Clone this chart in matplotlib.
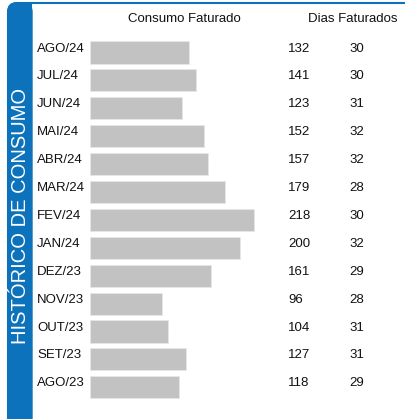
import matplotlib
matplotlib.use("Agg")
import matplotlib.pyplot as plt
from matplotlib.patches import FancyBboxPatch, Rectangle
from matplotlib import transforms

months = ["AGO/24", "JUL/24", "JUN/24", "MAI/24", "ABR/24", "MAR/24", "FEV/24",
          "JAN/24", "DEZ/23", "NOV/23", "OUT/23", "SET/23", "AGO/23"]
consumo = [132, 141, 123, 152, 157, 179, 218, 200, 161, 96, 104, 127, 118]
dias = [30, 30, 31, 32, 32, 28, 30, 32, 29, 28, 31, 31, 29]

W, H = 406, 419
BLUE = "#0b72bb"
FONT = ["Liberation Sans", "DejaVu Sans"]
plt.rcParams["font.family"] = FONT

fig = plt.figure(figsize=(W / 100, H / 100), dpi=100)
fig.patch.set_facecolor("white")

# pixel transform (origin bottom-left)
px = transforms.Affine2D().scale(1 / W, 1 / H) + fig.transFigure

# frame with rounded corner
frame = FancyBboxPatch((8, -30), W + 30, H - 3 + 30,
                       boxstyle="round,pad=0,rounding_size=9",
                       facecolor="white", edgecolor=BLUE, linewidth=1.5,
                       transform=px, zorder=0)
fig.add_artist(frame)
strip = FancyBboxPatch((8, -30), 24, H - 3 + 30,
                       boxstyle="round,pad=0,rounding_size=9",
                       facecolor=BLUE, edgecolor=BLUE, linewidth=1.0,
                       transform=px, zorder=1)
fig.add_artist(strip)
fig.add_artist(Rectangle((20, -30), 12, H - 3 + 30, facecolor=BLUE,
                         edgecolor="none", transform=px, zorder=1))

fig.text(20.5 / W, 1 - 215.5 / H, "HISTÓRICO DE CONSUMO", rotation=90,
         color="white", fontsize=14.5, ha="center", va="center", zorder=3)

# main axes spanning the whole figure
ax = fig.add_axes([0, 0, 1, 1])
ax.set_facecolor("none")
ax.set_zorder(2)
scale = 0.752  # px per unit
x0 = 90
ax.set_xlim(-x0 / scale, (W - x0) / scale)
pitch = 27.9
top = 52.5
ax.set_ylim((H - top) / pitch, -top / pitch)
ax.axis("off")

rows = list(range(len(months)))
ax.barh(rows, consumo, height=0.79, left=0, color="#c2c2c2",
        edgecolor="#e6e6e6", linewidth=0.6)

tr = transforms.blended_transform_factory(ax.transAxes, ax.transData)
dy = -0.14
fs = 9.5
for i, (m, c, d) in enumerate(zip(months, consumo, dias)):
    ax.text(37 / W, i + dy, m, transform=tr, ha="left", va="center",
            fontsize=fs, color="#111111")
    ax.text(288 / W, i + dy, str(c), transform=tr, ha="left", va="center",
            fontsize=fs, color="#111111")
    ax.text(349 / W, i + dy, str(d), transform=tr, ha="left", va="center",
            fontsize=fs, color="#111111")

fig.text(184 / W, 1 - 19 / H, "Consumo Faturado", ha="center", va="center",
         fontsize=fs, color="#111111")
fig.text(353 / W, 1 - 19 / H, "Dias Faturados", ha="center", va="center",
         fontsize=fs, color="#111111")

fig.savefig("out.png", dpi=100, facecolor="white")
